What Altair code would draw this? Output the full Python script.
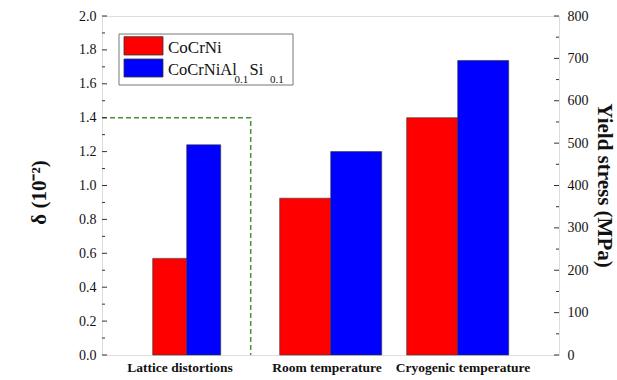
import altair as alt
import pandas as pd

# ---- values ----
categories = ["Lattice distortions", "Room temperature", "Cryogenic temperature"]
series = ["CoCrNi", "CoCrNiAl0.1Si0.1"]
lattice_delta = [0.57, 1.24]      # δ (10^-2)
room_yield = [370, 480]           # MPa
cryo_yield = [560, 695]           # MPa
delta_threshold = 1.4

left_ticks = [0.0, 0.2, 0.4, 0.6, 0.8, 1.0, 1.2, 1.4, 1.6, 1.8, 2.0]
left_minor = [0.1, 0.3, 0.5, 0.7, 0.9, 1.1, 1.3, 1.5, 1.7, 1.9]
right_ticks = [0, 100, 200, 300, 400, 500, 600, 700, 800]
right_minor = [50, 150, 250, 350, 450, 550, 650, 750]

# ---- layout ----
W, H = 457, 339
group_center = [84.7, 228.7, 355.7]
bar_width = [34, 51, 51]
label_center = [78, 225, 361]
separator_x = 148.7
RED, BLUE = "#ff0000", "#0000ff"
FONT = "Liberation Serif"

xs = alt.Scale(domain=[0, W], nice=False, zero=False)
sL = alt.Scale(domain=[0, 2], nice=False)
sR = alt.Scale(domain=[0, 800], nice=False)
colors = alt.Scale(domain=series, range=[RED, BLUE])

axL = alt.Axis(values=left_ticks, format=".1f", ticks=False, domain=False, grid=False,
               labelFontSize=14, labelPadding=6, labelColor="#111", labelFont=FONT,
               title="δ (10⁻²)", titleFont=FONT, titleFontSize=21, titleFontWeight="bold",
               titleColor="#111", titleAngle=270, titleX=-63, titleY=176,
               titleAlign="center", titleBaseline="middle")
axR = alt.Axis(orient="right", values=right_ticks, format="d", ticks=False, domain=False,
               grid=False, labelFontSize=14, labelPadding=8, labelColor="#111", labelFont=FONT,
               title="Yield stress (MPa)", titleFont=FONT, titleFontSize=21,
               titleFontWeight="bold", titleColor="#111", titleAngle=90, titleX=44,
               titleY=169, titleAlign="center", titleBaseline="middle")


def yl(field):
    return alt.Y(f"{field}:Q", scale=sL, axis=axL)


def yr(field):
    return alt.Y(f"{field}:Q", scale=sR, axis=axR)


def bar_rows(idx, values):
    c, w = group_center[idx], bar_width[idx]
    return [
        {"cat": categories[idx], "s": series[0], "x0": c - w, "x1": c, "v": values[0]},
        {"cat": categories[idx], "s": series[1], "x0": c, "x1": c + w, "v": values[1]},
    ]


left_bars_df = pd.DataFrame(bar_rows(0, lattice_delta))
right_bars_df = pd.DataFrame(bar_rows(1, room_yield) + bar_rows(2, cryo_yield))

bar_style = dict(stroke="#333", strokeWidth=0.6)

left_bars = alt.Chart(left_bars_df).mark_rect(**bar_style).encode(
    x=alt.X("x0:Q", scale=xs, axis=None), x2="x1:Q", y=yl("v"), y2=alt.datum(0),
    color=alt.Color("s:N", scale=colors, legend=None))

right_bars = alt.Chart(right_bars_df).mark_rect(**bar_style).encode(
    x=alt.X("x0:Q", scale=xs, axis=None), x2="x1:Q", y=yr("v"), y2=alt.datum(0),
    color=alt.Color("s:N", scale=colors, legend=None))

# dashed bracket around the lattice-distortion group
bracket_df = pd.DataFrame({"x": [0, separator_x, separator_x],
                           "v": [delta_threshold, delta_threshold, 0], "o": [0, 1, 2]})
bracket = alt.Chart(bracket_df).mark_line(color="#4f8b3b", strokeWidth=1.5,
                                           strokeDash=[5, 3]).encode(
    x=alt.X("x:Q", scale=xs, axis=None), y=yl("v"), order="o:Q")

# inward tick marks
tick_color = "#333"
left_major = alt.Chart(pd.DataFrame({"t": left_ticks})).mark_rule(color=tick_color).encode(
    x=alt.value(0), x2=alt.value(5), y=yl("t"))
left_min = alt.Chart(pd.DataFrame({"t": left_minor})).mark_rule(color=tick_color).encode(
    x=alt.value(0), x2=alt.value(3), y=yl("t"))
right_major = alt.Chart(pd.DataFrame({"t": right_ticks})).mark_rule(color=tick_color).encode(
    x=alt.value(W), x2=alt.value(W - 5), y=yr("t"))
right_min = alt.Chart(pd.DataFrame({"t": right_minor})).mark_rule(color=tick_color).encode(
    x=alt.value(W), x2=alt.value(W - 3), y=yr("t"))

# category labels under the bars
labels = alt.Chart(pd.DataFrame({"cat": categories, "cx": label_center})).mark_text(
    font=FONT, fontSize=13.5, fontWeight="bold", color="#111", baseline="alphabetic").encode(
    x=alt.X("cx:Q", scale=xs, axis=None), y=alt.value(H + 17), text="cat:N")

# legend box with subscripted series name
one = pd.DataFrame({"k": [0]})
legend_box = alt.Chart(one).mark_rect(fill="white", stroke="#777", strokeWidth=1).encode(
    x=alt.value(17), x2=alt.value(191), y=alt.value(18), y2=alt.value(69))
sw_red = alt.Chart(one).mark_rect(fill=RED, stroke="#333", strokeWidth=0.8).encode(
    x=alt.value(22), x2=alt.value(61), y=alt.value(20.7), y2=alt.value(39))
sw_blue = alt.Chart(one).mark_rect(fill=BLUE, stroke="#333", strokeWidth=0.8).encode(
    x=alt.value(22), x2=alt.value(61), y=alt.value(43), y2=alt.value(61))


def txt(s, x, y, size):
    return alt.Chart(one).mark_text(text=s, font=FONT, fontSize=size, color="#111",
                                    align="left", baseline="alphabetic").encode(
        x=alt.value(x), y=alt.value(y))


legend = [legend_box, sw_red, sw_blue,
          txt("CoCrNi", 66, 37, 17),
          txt("CoCrNiAl", 66, 58.5, 16.5),
          txt("0.1", 132.5, 66.5, 11),
          txt("Si", 147.5, 58.5, 16.5),
          txt("0.1", 168, 66.5, 11)]

left_group = alt.layer(left_bars, bracket, left_major, left_min, labels, *legend)
right_group = alt.layer(right_bars, right_major, right_min)

chart = alt.layer(left_group, right_group).resolve_scale(y="independent").properties(
    width=W, height=H,
    padding={"left": 102, "top": 16, "right": 58, "bottom": 25},
    autosize=alt.AutoSizeParams(type="none"),
    background="white",
).configure_view(stroke="#333", strokeWidth=1.2).configure_axis(
    labelFont=FONT, titleFont=FONT, labelColor="#111", labelFontSize=14
).configure(font=FONT)

chart.save("out.html", embed_options={"renderer": "svg", "actions": False})
